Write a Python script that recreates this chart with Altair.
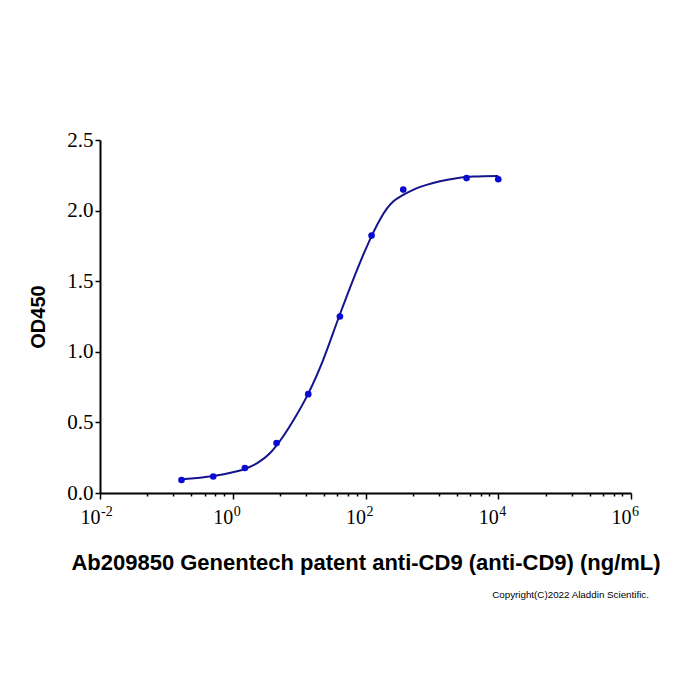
import altair as alt
import pandas as pd

# Measured points (ng/mL, OD450)
conc = [0.169, 0.508, 1.524, 4.572, 13.72, 41.15, 123.5, 370.4, 3333, 10000]
od = [0.092, 0.117, 0.177, 0.354, 0.700, 1.250, 1.823, 2.149, 2.230, 2.222]

# Fitted curve
curve_conc = [0.169, 0.509, 1.0, 1.55, 2.4, 3.6, 9.1, 13.6, 22.9, 40, 65, 103.5,
              124.5, 164, 207, 261, 369, 522, 832, 1321, 2360, 4200, 10000]
curve_od = [0.097, 0.12, 0.147, 0.172, 0.215, 0.28, 0.55, 0.70, 0.94, 1.25, 1.51, 1.74,
            1.823, 1.934, 2.01, 2.064, 2.111, 2.147, 2.182, 2.208, 2.229, 2.241, 2.245]

# Axis ticks
major_x = [0.01, 1, 100, 10000, 1000000]
major_x_base = ["10", "10", "10", "10", "10"]
major_x_exp = ["-2", "0", "2", "4", "6"]
minor_offsets = [0.712, 1.104, 1.376, 1.576, 1.738, 1.867]
y_ticks = [0, 0.5, 1.0, 1.5, 2.0, 2.5]

x_title = "Ab209850 Genentech patent anti-CD9 (anti-CD9) (ng/mL)"
y_title = "OD450"
copyright_text = "Copyright(C)2022 Aladdin Scientific."

minor_x = []
for m in major_x[:-1]:
    for off in minor_offsets:
        minor_x.append(m * 10 ** off)
tick_values = sorted(major_x + minor_x)

label_expr = ""
for v, lab in zip(major_x, major_x_base):
    label_expr += f"datum.value == {v} ? '{lab}' : "
label_expr += "''"
major_test = " || ".join(f"datum.value == {v}" for v in major_x)

pts = pd.DataFrame({"conc": conc, "od": od})
crv = pd.DataFrame({"conc": curve_conc, "od": curve_od})
sup = pd.DataFrame({"conc": major_x, "exp": major_x_exp})

xscale = alt.Scale(type="log", domain=[0.01, 1000000], nice=False)
yscale = alt.Scale(domain=[0, 2.5], nice=False, zero=False)

xaxis = alt.Axis(
    values=tick_values,
    labelExpr=label_expr,
    title=x_title,
    labelFont="Liberation Serif",
    labelFontSize=20,
    labelColor="black",
    labelAlign="right",
    labelBaseline="top",
    labelPadding=8,
    labelOverlap=False,
    labelFlush=False,
    tickColor="black",
    tickWidth=1.5,
    tickSize={"condition": {"test": major_test, "value": 6}, "value": 3},
    domainColor="black",
    domainWidth=2,
    grid=False,
    titleFont="Liberation Sans",
    titleFontWeight="bold",
    titleFontSize=22,
    titleColor="black",
    titlePadding=25,
)

yaxis = alt.Axis(
    values=y_ticks,
    format=".1f",
    title=y_title,
    labelFont="Liberation Serif",
    labelFontSize=21,
    labelColor="black",
    labelPadding=2,
    tickColor="black",
    tickWidth=1.5,
    tickSize=5,
    domainColor="black",
    domainWidth=2,
    grid=False,
    titleFont="Liberation Sans",
    titleFontWeight="bold",
    titleFontSize=20,
    titleColor="black",
    titlePadding=18,
)

line = alt.Chart(crv).mark_line(
    color="#14148c", strokeWidth=2, interpolate="monotone"
).encode(
    x=alt.X("conc:Q", scale=xscale, axis=xaxis),
    y=alt.Y("od:Q", scale=yscale, axis=yaxis),
)

points = alt.Chart(pts).mark_point(
    filled=True, color="#0a0ad2", size=44, opacity=1
).encode(
    x=alt.X("conc:Q", scale=xscale),
    y=alt.Y("od:Q", scale=yscale),
)

superscripts = alt.Chart(sup).mark_text(
    align="left", baseline="alphabetic", dx=1,
    font="Liberation Serif", fontSize=14, color="black"
).encode(
    x=alt.X("conc:Q", scale=xscale),
    y=alt.value(376),
    text="exp:N",
)

chart = alt.layer(line, points, superscripts).properties(
    width=531,
    height=353,
    autosize=alt.AutoSizeParams(type="none"),
    padding={"left": 100, "top": 140, "right": 69, "bottom": 207},
    title=alt.TitleParams(
        text=copyright_text,
        orient="bottom",
        anchor="end",
        frame="group",
        font="Liberation Sans",
        fontSize=9.8,
        fontWeight="normal",
        color="black",
        offset=17,
        dx=18,
    ),
).configure_view(strokeWidth=0, stroke=None)

chart.save("out.html", embed_options={"renderer": "svg", "actions": False})
